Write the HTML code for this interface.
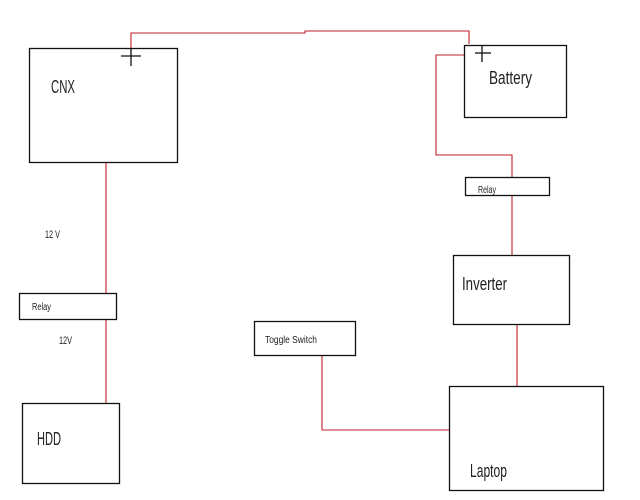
<!DOCTYPE html>
<html><head><style>
html,body{margin:0;padding:0;background:#fff;}
svg{display:block}
text{font-family:"Liberation Sans",sans-serif;fill:#222;}
</style></head><body>
<svg width="640" height="500" viewBox="0 0 640 500" xmlns="http://www.w3.org/2000/svg">
<g fill="none" stroke="#c0202a" stroke-width="1.1">
<polyline points="131,56 131,33 305,33 305,31 469,31 469,44"/>
<polyline points="464,55 436,55 436,155 512,155 512,177"/>
<line x1="512" y1="196" x2="512" y2="255"/>
<line x1="517" y1="324" x2="517" y2="386"/>
<line x1="106" y1="162" x2="106" y2="293"/>
<line x1="106" y1="319" x2="106" y2="403"/>
<polyline points="322,355 322,430 449,430"/>
</g>
<g fill="none" stroke="#111" stroke-width="1.3">
<rect x="29.5" y="48.5" width="148" height="114"/>
<rect x="464.5" y="45.5" width="102" height="72"/>
<rect x="465.5" y="177.5" width="84" height="18"/>
<rect x="453.5" y="255.5" width="116" height="69"/>
<rect x="449.5" y="386.5" width="154" height="104"/>
<rect x="22.5" y="403.5" width="97" height="80"/>
<rect x="19.5" y="293.5" width="97" height="26"/>
<rect x="254.5" y="321.5" width="101" height="34"/>
<line x1="121" y1="56" x2="141" y2="56"/>
<line x1="131" y1="48" x2="131" y2="66"/>
<line x1="475" y1="53" x2="491" y2="53"/>
<line x1="482" y1="46" x2="482" y2="62"/>
</g>
<text x="51" y="93" font-size="18" textLength="24" lengthAdjust="spacingAndGlyphs">CNX</text>
<text x="489" y="84" font-size="18" textLength="43" lengthAdjust="spacingAndGlyphs">Battery</text>
<text x="478" y="193" font-size="10" textLength="18" lengthAdjust="spacingAndGlyphs">Relay</text>
<text x="462" y="290" font-size="18" textLength="45" lengthAdjust="spacingAndGlyphs">Inverter</text>
<text x="470" y="477" font-size="18" textLength="37" lengthAdjust="spacingAndGlyphs">Laptop</text>
<text x="37" y="445" font-size="18" textLength="24" lengthAdjust="spacingAndGlyphs">HDD</text>
<text x="32" y="310" font-size="10" textLength="19" lengthAdjust="spacingAndGlyphs">Relay</text>
<text x="265" y="343" font-size="10" textLength="52" lengthAdjust="spacingAndGlyphs">Toggle Switch</text>
<text x="45" y="238" font-size="11" textLength="15" lengthAdjust="spacingAndGlyphs">12 V</text>
<text x="59" y="344" font-size="11" textLength="13" lengthAdjust="spacingAndGlyphs">12V</text>
</svg>
</body></html>
